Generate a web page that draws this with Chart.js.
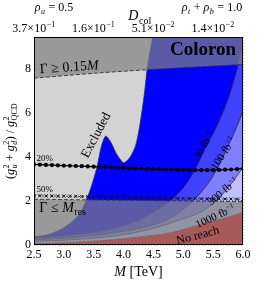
<!DOCTYPE html>
<html>
<head>
<meta charset="utf-8">
<script src="https://cdn.jsdelivr.net/npm/chart.js@4.4.1/dist/chart.umd.min.js"></script>
<style>
html,body{margin:0;padding:0;background:#fff}
</style>
</head>
<body>
<canvas id="c" width="258" height="284"></canvas>
<script>
// --- datos (M en TeV, acoplamiento (gu^2+gd^2)/gQCD^2) ---
var xTicks=[2.5,3.0,3.5,4.0,4.5,5.0,5.5,6.0];
var yTicks=[0,2,4,6,8];
var topTicks=[2.5,3.5,4.5,5.5];
var topMant=['3.7','1.6','5.1','1.4'];
var topExp=['−1','−1','−2','−2'];

// borde de la region excluida
var excM=[2.5,2.71,2.99,3.25,3.41,3.5,3.56,3.63,3.7,3.78,3.88,4.0,4.1,4.2,4.27,4.35,4.4,4.49];
var excG=[0.38,0.45,0.77,1.36,2.27,3.0,3.6,4.5,4.95,4.7,4.15,3.74,3.95,4.5,5.4,6.9,8.1,9.5];
// contornos de alcance por luminosidad
var r30M=[2.5,3.0,3.5,4.0,4.25,4.5,4.75,5.0,5.19,5.36,5.58,5.77,5.9,6.0];
var r30G=[0.32,0.42,0.58,0.88,1.12,1.48,1.95,2.6,3.4,4.35,5.5,6.8,8.0,9.3];
var r100M=[2.5,3.0,3.5,4.0,4.5,4.8,5.1,5.3,5.5,5.7,5.9,6.0];
var r100G=[0.24,0.31,0.43,0.62,0.92,1.25,1.85,2.4,3.15,4.2,5.4,6.1];
var r300M=[2.5,3.0,3.5,4.0,4.25,4.5,4.92,5.37,5.67,5.85,6.0];
var r300G=[0.17,0.22,0.31,0.47,0.6,0.76,1.12,1.62,2.35,2.95,3.55];
var r1000M=[2.5,3.0,3.5,4.0,4.25,4.8,5.37,5.7,6.0];
var r1000G=[0.06,0.1,0.17,0.28,0.36,0.56,1.0,1.22,1.48];
// anchura: Gamma >= 0.15 M  y  Gamma <= M_res
var wideM=[2.5,3.5,4.5,5.5,6.0];
var wideG=[7.58,7.8,7.98,8.13,8.2];
var narrowM=[2.5,4.0,6.0];
var narrowG=[2.08,2.03,1.97];
// lineas de 20% y 50%
var dotM=[2.5,2.6,2.7,2.8,2.9,3.0,3.1,3.2,3.3,3.4,3.5,3.6,3.7,3.8,3.9,4.0,4.1,4.2,4.3,4.4,4.5,4.6,4.7,4.8,4.9,5.0,5.1,5.2,5.3,5.4,5.5,5.6,5.7,5.8,5.9,6.0];
var frac20=[3.66,3.65,3.64,3.63,3.62,3.61,3.60,3.59,3.58,3.57,3.56,3.55,3.54,3.52,3.51,3.50,3.49,3.48,3.47,3.46,3.45,3.44,3.43,3.42,3.42,3.41,3.40,3.40,3.40,3.40,3.40,3.41,3.42,3.43,3.45,3.48];
var frac50=[2.24,2.24,2.23,2.23,2.22,2.22,2.21,2.21,2.20,2.20,2.19,2.19,2.18,2.18,2.17,2.17,2.16,2.16,2.15,2.15,2.14,2.14,2.13,2.13,2.12,2.12,2.11,2.11,2.10,2.10,2.10,2.09,2.09,2.09,2.08,2.08];

var SERIF='"Liberation Serif","DejaVu Serif",serif';

function pts(xs,ys){return xs.map(function(x,i){return {x:x,y:ys[i]};});}

// texto con sub/superindices: [texto, pos('',sub,sup,ss), estilo, textoSub, estiloSub]
function rich(ctx,runs,x,y,size,opt){
  opt=opt||{};
  var sm=Math.round(size*0.68),items=[],w=0;
  function fnt(st,sz){return (st==='i'?'italic ':st==='b'?'bold ':'')+sz+'px '+SERIF;}
  runs.forEach(function(r){
    var t=r[0],pos=r[1]||'',st=r[2]||'r';
    if(pos==='ss'){
      var f1=fnt(st,sm),f2=fnt(r[4]||'r',sm);
      ctx.font=f1;var w1=ctx.measureText(t).width;
      ctx.font=f2;var w2=ctx.measureText(r[3]).width;
      items.push({t:t,f:f1,x:w+0.5,dy:-size*0.4});
      items.push({t:r[3],f:f2,x:w+0.5,dy:size*0.28});
      w+=Math.max(w1,w2)+1;
    }else{
      var sz=(pos==='sub'||pos==='sup')?sm:size;
      var dy=pos==='sub'?size*0.25:pos==='sup'?-size*0.38:0;
      var f=fnt(st,sz);ctx.font=f;
      var tw=ctx.measureText(t).width;
      items.push({t:t,f:f,x:w+(pos?0.5:0),dy:dy});
      w+=tw+(pos?1:0);
    }
  });
  ctx.save();
  ctx.translate(x,y);
  if(opt.rot)ctx.rotate(opt.rot*Math.PI/180);
  var x0=opt.align==='center'?-w/2:opt.align==='right'?-w:0;
  var y0=opt.mid?size*0.33:0;
  ctx.fillStyle=opt.color||'#000';
  ctx.textBaseline='alphabetic';ctx.textAlign='left';
  items.forEach(function(it){ctx.font=it.f;ctx.fillText(it.t,x0+it.x,y0+it.dy);});
  ctx.restore();
}

// rotulos dentro del grafico (ancla en unidades de datos)
var notas=[
  {runs:[['Γ ≥ 0.15'],['M','','i']],M:2.6,g:7.8,size:14,rot:-3.9,align:'left'},
  {runs:[['Coloron','','b']],M:5.33,g:8.62,size:19,align:'center'},
  {runs:[['Excluded']],M:3.53,g:5.0,size:13,rot:-62,align:'center',mid:true},
  {runs:[['20%']],M:2.54,g:3.8,size:9,align:'left'},
  {runs:[['50%']],M:2.54,g:2.42,size:9,align:'left'},
  {runs:[['Γ ≤ '],['M','','i'],['res','sub']],M:2.59,g:1.52,size:14,align:'left'},
  {runs:[['30 fb'],['−1','sup']],M:5.34,g:4.55,size:11,rot:-60,align:'center',mid:true},
  {runs:[['100 fb'],['−1','sup']],M:5.67,g:4.18,size:11,rot:-57,align:'center',mid:true},
  {runs:[['300 fb'],['−1','sup']],M:5.66,g:2.45,size:11,rot:-40,align:'center',mid:true},
  {runs:[['1000 fb'],['−1','sup']],M:5.54,g:1.32,size:11,rot:-25,align:'center',mid:true},
  {runs:[['No reach']],M:5.24,g:0.45,size:12,rot:-15,align:'center',mid:true}
];

var notasPlugin={
  id:'notas',
  afterDraw:function(ch){
    var ctx=ch.ctx,a=ch.chartArea,sx=ch.scales.x,sy=ch.scales.y,s2=ch.scales.x2;
    ctx.save();
    ctx.strokeStyle='#000';ctx.lineWidth=1;
    ctx.strokeRect(a.left+0.5,a.top+0.5,a.right-a.left-1,a.bottom-a.top-1);
    ctx.restore();
    notas.forEach(function(n){
      rich(ctx,n.runs,sx.getPixelForValue(n.M),sy.getPixelForValue(n.g),n.size,n);
    });
    // eje superior: D_col
    topTicks.forEach(function(v,i){
      rich(ctx,[[topMant[i]+'×10'],[topExp[i],'sup']],s2.getPixelForValue(v),32,12,{align:'center'});
    });
    // titulos de ejes y cabecera
    rich(ctx,[['M','','i'],[' [TeV]']],(a.left+a.right)/2,276,14,{align:'center'});
    rich(ctx,[['('],['g','','i'],['2','ss','r','u','i'],[' + '],['g','','i'],['2','ss','r','d','i'],[')'],[' / '],['g','','i'],['2','ss','r','QCD','r']],
      14,(a.top+a.bottom)/2,12,{align:'center',rot:-90});
    rich(ctx,[['ρ','','i'],['u','sub','i'],[' = 0.5']],54,11,12,{align:'center'});
    rich(ctx,[['D','','i'],['col','sub']],140,20,14,{align:'center'});
    rich(ctx,[['ρ','','i'],['t','sub','i'],[' + '],['ρ','','i'],['b','sub','i'],[' = 1.0']],212,11,12,{align:'center'});
  }
};

var LINEA='#2a2a2a';
var datasets=[
  {label:'No reach',data:pts(r1000M,r1000G),fill:'start',backgroundColor:'#ff0000',borderWidth:0,cubicInterpolationMode:'monotone',order:11},
  {label:'1000',data:pts(r1000M,r1000G),fill:'end',backgroundColor:'#c0c0ff',borderColor:LINEA,borderWidth:0.8,cubicInterpolationMode:'monotone',order:10},
  {label:'300',data:pts(r300M,r300G),fill:'end',backgroundColor:'#8080ff',borderColor:LINEA,borderWidth:0.8,cubicInterpolationMode:'monotone',order:9},
  {label:'100',data:pts(r100M,r100G),fill:'end',backgroundColor:'#4040ff',borderColor:LINEA,borderWidth:0.8,cubicInterpolationMode:'monotone',order:8},
  {label:'30',data:pts(r30M,r30G),fill:'end',backgroundColor:'#0000ff',borderColor:LINEA,borderWidth:0.8,cubicInterpolationMode:'monotone',order:7},
  {label:'Excluded',data:pts(excM,excG),fill:'end',backgroundColor:'#d3d3d3',borderColor:'#333',borderWidth:0.8,tension:0.25,order:6},
  {label:'wide',data:pts(wideM,wideG),fill:'end',backgroundColor:'rgba(128,128,128,0.7)',borderColor:'#333',borderWidth:0.9,borderDash:[4,2],tension:0.3,order:5},
  {label:'narrow',data:pts(narrowM,narrowG),fill:'start',backgroundColor:'rgba(128,128,128,0.7)',borderColor:'#333',borderWidth:0.9,borderDash:[4,2],order:4},
  {label:'50%',data:pts(dotM,frac50),fill:false,borderColor:'#222',borderWidth:0.8,borderDash:[2,2],
    pointStyle:'crossRot',pointRadius:2.3,pointBorderColor:'#111',pointBorderWidth:1,order:3},
  {label:'20%',data:pts(dotM,frac20),fill:false,borderColor:'#000',borderWidth:1.2,
    pointRadius:2.1,pointBackgroundColor:'#000',pointBorderColor:'#000',pointBorderWidth:0,order:2}
];

new Chart(document.getElementById('c'),{
  type:'line',
  data:{datasets:datasets},
  plugins:[notasPlugin],
  options:{
    responsive:false,animation:false,devicePixelRatio:1,
    layout:{padding:{left:0,right:15,top:0,bottom:0}},
    plugins:{legend:{display:false},tooltip:{enabled:false}},
    elements:{point:{radius:0},line:{borderWidth:0.8}},
    scales:{
      x:{type:'linear',position:'bottom',min:2.5,max:6.0,z:1,
        afterBuildTicks:function(s){s.ticks=xTicks.map(function(v){return {value:v};});},
        afterFit:function(s){s.height=39;},
        ticks:{callback:function(v){return v.toFixed(1);},font:{family:SERIF,size:12},color:'#000',padding:3,maxRotation:0,autoSkip:false},
        grid:{color:'rgba(110,110,110,0.8)',lineWidth:0.6,drawTicks:false},
        border:{display:false,dash:[1,2]}},
      x2:{type:'linear',position:'top',min:2.5,max:6.0,
        afterBuildTicks:function(s){s.ticks=topTicks.map(function(v){return {value:v};});},
        afterFit:function(s){s.height=37;},
        ticks:{display:false},
        grid:{display:false,drawTicks:false},border:{display:false}},
      y:{type:'linear',min:0,max:9.45,z:1,
        afterBuildTicks:function(s){s.ticks=yTicks.map(function(v){return {value:v};});},
        afterFit:function(s){s.width=34;},
        ticks:{font:{family:SERIF,size:12},color:'#000',padding:3},
        grid:{color:'rgba(110,110,110,0.8)',lineWidth:0.6,drawTicks:false},
        border:{display:false,dash:[1,2]}}
    }
  }
});
</script>
</body>
</html>
